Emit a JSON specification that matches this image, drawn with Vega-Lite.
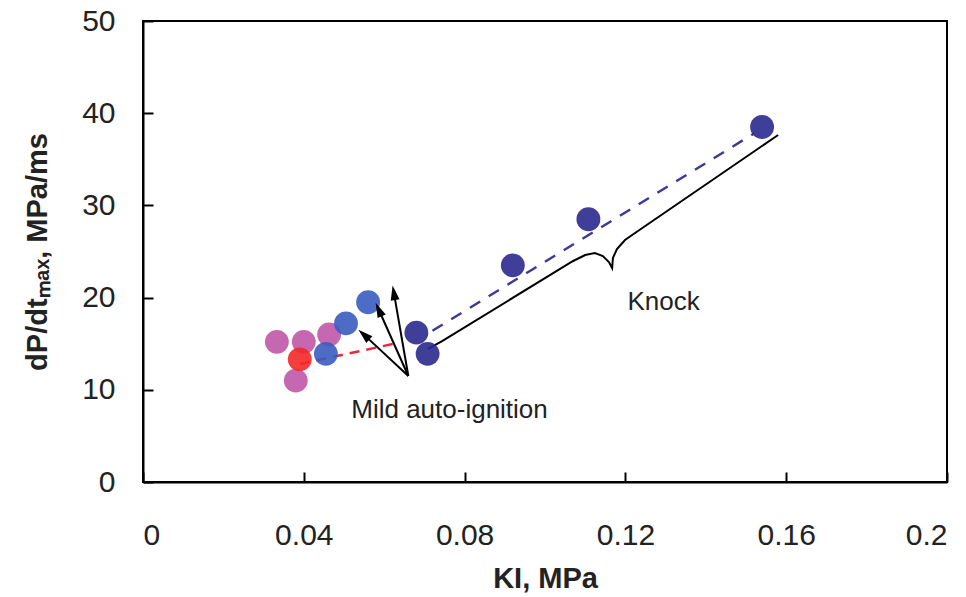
{
  "$schema": "https://vega.github.io/schema/vega-lite/v6.json",
  "width": 804,
  "height": 461,
  "autosize": "none",
  "padding": {"left": 143, "top": 21, "right": 19, "bottom": 115},
  "background": "white",
  "config": {
    "view": {"stroke": "black", "strokeWidth": 2},
    "font": "Liberation Sans",
    "axis": {
      "grid": false,
      "labelFont": "Liberation Sans",
      "labelFontSize": 30,
      "labelColor": "#222222",
      "titleFont": "Liberation Sans",
      "titleFontSize": 29,
      "titleFontWeight": "bold",
      "titleColor": "#222222"
    }
  },
  "datasets": {
    "pts": [
      {"x": 0.0333, "y": 15.2, "group": "pink"},
      {"x": 0.0400, "y": 15.2, "group": "pink"},
      {"x": 0.0463, "y": 16.0, "group": "pink"},
      {"x": 0.0380, "y": 11.0, "group": "pink"},
      {"x": 0.0390, "y": 13.3, "group": "red"},
      {"x": 0.0455, "y": 13.9, "group": "blue"},
      {"x": 0.0505, "y": 17.2, "group": "blue"},
      {"x": 0.0560, "y": 19.5, "group": "blue"},
      {"x": 0.0680, "y": 16.2, "group": "navy"},
      {"x": 0.0708, "y": 13.9, "group": "navy"},
      {"x": 0.0920, "y": 23.5, "group": "navy"},
      {"x": 0.1108, "y": 28.5, "group": "navy"},
      {"x": 0.1540, "y": 38.5, "group": "navy"}
    ],
    "redfit": [
      {"x": 0.039, "y": 12.8},
      {"x": 0.0625, "y": 15.0}
    ],
    "navyfit": [
      {"x": 0.072, "y": 16.4},
      {"x": 0.152, "y": 37.8}
    ],
    "brace": [
      {"x": 0.0709, "y": 14.43},
      {"x": 0.0744, "y": 15.29},
      {"x": 0.1070, "y": 23.97},
      {"x": 0.1100, "y": 24.62},
      {"x": 0.1124, "y": 24.84},
      {"x": 0.1144, "y": 24.51},
      {"x": 0.1159, "y": 23.86},
      {"x": 0.1167, "y": 23.21},
      {"x": 0.1169, "y": 24.30},
      {"x": 0.1179, "y": 25.27},
      {"x": 0.1199, "y": 26.25},
      {"x": 0.1224, "y": 27.01},
      {"x": 0.1580, "y": 37.64}
    ],
    "arrows": [
      {"x": 0.05535, "y": 15.82, "x2": 0.066, "y2": 11.5, "id": 1},
      {"x": 0.05885, "y": 18.49, "x2": 0.066, "y2": 11.5, "id": 2},
      {"x": 0.0625, "y": 20.29, "x2": 0.066, "y2": 11.5, "id": 3}
    ],
    "labels": [
      {"x": 0.07625, "y": 7.8, "text": "Mild auto-ignition"},
      {"x": 0.1295, "y": 19.5, "text": "Knock"}
    ],
    "xticks": [
      {"x": 0.04}, {"x": 0.08}, {"x": 0.12}, {"x": 0.16}
    ],
    "yticks": [
      {"y": 10}, {"y": 20}, {"y": 30}, {"y": 40}
    ]
  },
  "encoding": {
    "x": {
      "field": "x",
      "type": "quantitative",
      "scale": {"domain": [0, 0.2], "nice": false, "zero": false},
      "axis": {"title": "KI, MPa", "values": [0, 0.04, 0.08, 0.12, 0.16, 0.2], "format": ".2~f", "ticks": true, "tickSize": -10, "tickColor": "black", "tickWidth": 2, "domainColor": "black", "domainWidth": 2, "zindex": 1, "labelPadding": 48, "titlePadding": 14}
    },
    "y": {
      "field": "y",
      "type": "quantitative",
      "scale": {"domain": [0, 50], "nice": false, "zero": false},
      "axis": {"title": "dP/dtₘₐₓ, MPa/ms", "values": [0, 10, 20, 30, 40, 50], "ticks": true, "tickSize": -10, "tickColor": "black", "tickWidth": 2, "domainColor": "black", "domainWidth": 2, "zindex": 1, "labelPadding": 38, "titlePadding": 29}
    }
  },
  "layer": [
    {
      "data": {"name": "xticks"},
      "mark": {"type": "tick", "orient": "vertical", "size": 20, "thickness": 2, "color": "black", "opacity": 1, "clip": true},
      "encoding": {"y": {"datum": 0, "type": "quantitative"}}
    },
    {
      "data": {"name": "yticks"},
      "mark": {"type": "tick", "orient": "horizontal", "size": 20, "thickness": 2, "color": "black", "opacity": 1, "clip": true},
      "encoding": {"x": {"datum": 0, "type": "quantitative"}}
    },
    {
      "data": {"name": "redfit"},
      "mark": {"type": "line", "color": "#e8283c", "strokeWidth": 2.5, "strokeDash": [10, 7]}
    },
    {
      "data": {"name": "navyfit"},
      "mark": {"type": "line", "color": "#3a3a9a", "strokeWidth": 2.5, "strokeDash": [12, 10]}
    },
    {
      "data": {"name": "brace"},
      "mark": {"type": "line", "color": "black", "strokeWidth": 2, "interpolate": "linear"}
    },
    {
      "data": {"name": "pts"},
      "mark": {"type": "circle", "size": 570, "opacity": 0.9},
      "encoding": {
        "color": {
          "field": "group",
          "type": "nominal",
          "scale": {"domain": ["pink", "red", "blue", "navy"], "range": ["#c058a8", "#f42828", "#3a5cc0", "#2a2a8e"]},
          "legend": null
        }
      }
    },
    {
      "data": {"name": "arrows"},
      "mark": {"type": "rule", "color": "black", "strokeWidth": 2},
      "encoding": {
        "x2": {"field": "x2"},
        "y2": {"field": "y2"}
      }
    },
    {
      "data": {"name": "arrows"},
      "mark": {"type": "point", "shape": "M0,-1.3L0.6,0.7L-0.6,0.7Z", "filled": true, "color": "black", "opacity": 1, "size": 220},
      "encoding": {
        "angle": {"field": "id", "type": "quantitative", "scale": {"domain": [1, 2, 3], "range": [312.5, 336, 350]}, "legend": null}
      }
    },
    {
      "data": {"name": "labels"},
      "mark": {"type": "text", "font": "Liberation Sans", "fontSize": 26, "color": "#222222", "align": "center", "baseline": "middle"},
      "encoding": {"text": {"field": "text"}}
    }
  ]
}
